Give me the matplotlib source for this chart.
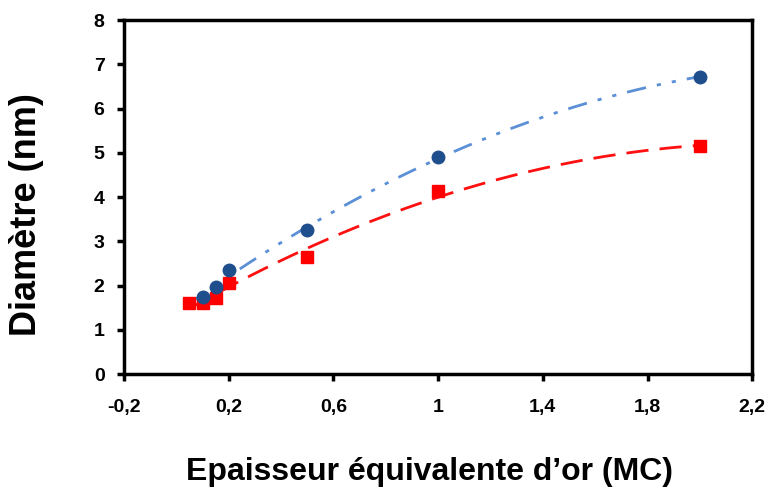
import numpy as np
import matplotlib.pyplot as plt

# epaisseur equivalente d'or (MC) et diametre (nm)
x_blue = [0.05, 0.1, 0.15, 0.2, 0.5, 1.0, 2.0]
y_blue = [1.6, 1.75, 1.97, 2.35, 3.25, 4.9, 6.72]
x_red = [0.05, 0.1, 0.15, 0.2, 0.5, 1.0, 2.0]
y_red = [1.6, 1.6, 1.72, 2.07, 2.65, 4.13, 5.15]

xticks = [-0.2, 0.2, 0.6, 1.0, 1.4, 1.8, 2.2]
xticklabels = ["-0,2", "0,2", "0,6", "1", "1,4", "1,8", "2,2"]
yticks = [0, 1, 2, 3, 4, 5, 6, 7, 8]

plt.rcParams['font.family'] = ['Liberation Sans', 'DejaVu Sans']

fig = plt.figure(figsize=(7.7, 4.91), dpi=100)
ax = fig.add_axes([0.161, 0.238, 0.816, 0.721])

# polynomial trendlines (order 2), like the spreadsheet ones
xf = np.linspace(0.05, 2.0, 200)
pb = np.polyfit(x_blue, y_blue, 2)
pr = np.polyfit(x_red, y_red, 2)
ax.plot(xf, np.polyval(pb, xf), color="#5b8fd6", linewidth=2,
        dashes=(7, 4, 1.5, 4, 1.5, 4), zorder=2)
ax.plot(xf, np.polyval(pr, xf), color="#ff1010", linewidth=2,
        dashes=(8, 4), zorder=2)

ax.plot(x_red, y_red, "s", color="#ff0000", markersize=8, zorder=3)
ax.plot(x_blue[1:], y_blue[1:], "o", color="#1f4e8c", markersize=9, zorder=4)

ax.set_xlim(-0.2, 2.2)
ax.set_ylim(0, 8)
ax.set_xticks(xticks)
ax.set_xticklabels(xticklabels)
ax.set_yticks(yticks)

for s in ax.spines.values():
    s.set_linewidth(2.5)
    s.set_color("black")
ax.tick_params(direction="out", length=5, width=2.5, labelsize=14, pad=13)
ax.tick_params(axis="y", pad=9)
for lab in ax.get_xticklabels() + ax.get_yticklabels():
    lab.set_fontweight("bold")

ax.set_xlabel("Epaisseur équivalente d’or (MC)", fontsize=23, fontweight="bold")
ax.set_ylabel("Diamètre (nm)", fontsize=26, fontweight="bold")
ax.xaxis.set_label_coords(0.487, -0.235)
ax.yaxis.set_label_coords(-0.128, 0.452)

plt.savefig("out.png", dpi=100)
